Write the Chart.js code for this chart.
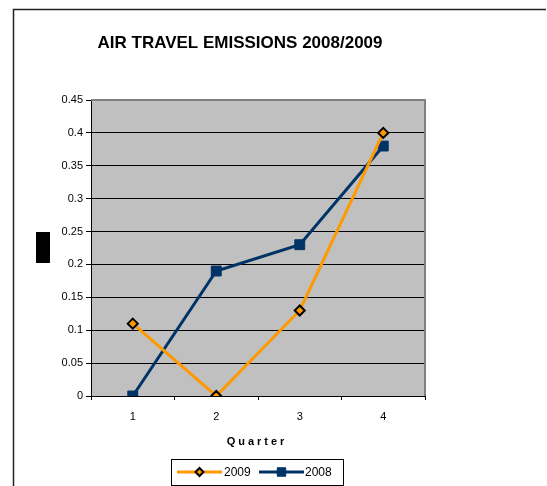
<!DOCTYPE html>
<html lang="en">
<head>
  <meta charset="UTF-8">
  <title>Air Travel Emissions</title>
  <script src="https://cdn.jsdelivr.net/npm/chart.js"></script>
  <style>
    body { margin: 0; background: #fff; }
    canvas { display: block; }
  </style>
</head>
<body>
  <canvas id="emChart" width="547" height="486"></canvas>

  <script>
    // values
    const quarters = ['1', '2', '3', '4'];
    const values2009 = [0.11, 0, 0.13, 0.40];
    const values2008 = [0, 0.19, 0.23, 0.38];
    const yTickLabels = ['0', '0.05', '0.1', '0.15', '0.2', '0.25', '0.3', '0.35', '0.4', '0.45'];

    const chartTitle = 'AIR TRAVEL EMISSIONS 2008/2009';
    const xTitle = 'Quarter';

    // frame, plot background, title, axis title and legend box
    const decorPlugin = {
      id: 'decor',
      beforeDraw(chart) {
        const c = chart.ctx;
        const a = chart.chartArea;
        c.save();
        c.fillStyle = '#c0c0c0';
        c.fillRect(a.left, a.top, a.right - a.left, a.bottom - a.top);
        // outer frame (only top + left visible)
        c.strokeStyle = '#222';
        c.lineWidth = 1.5;
        c.beginPath();
        c.moveTo(13.5, 486);
        c.lineTo(13.5, 9.5);
        c.lineTo(546, 9.5);
        c.stroke();
        c.restore();
      },
      afterDraw(chart) {
        const c = chart.ctx;
        const a = chart.chartArea;
        c.save();
        // gray plot border top/right
        c.strokeStyle = '#808080';
        c.lineWidth = 2;
        c.beginPath();
        c.moveTo(a.left, a.top);
        c.lineTo(a.right, a.top);
        c.lineTo(a.right, a.bottom);
        c.stroke();

        c.fillStyle = '#000';
        c.textAlign = 'center';
        c.textBaseline = 'alphabetic';
        c.font = 'bold 17px "Liberation Sans", Arial, sans-serif';
        c.fillText(chartTitle, 240, 48);

        c.font = 'bold 11px "Liberation Sans", Arial, sans-serif';
        c.letterSpacing = '3px';
        c.fillText(xTitle, 257, 445);
        c.letterSpacing = '0px';

        // redacted y axis title block
        c.fillRect(36, 232, 14, 31);

        // legend
        c.strokeStyle = '#000';
        c.lineWidth = 1;
        c.strokeRect(171.5, 459.5, 172, 26);
        c.font = '12px "Liberation Sans", Arial, sans-serif';
        c.textAlign = 'left';
        c.textBaseline = 'middle';
        const slots = [{ x0: 177, x1: 222, tx: 224 }, { x0: 259, x1: 304, tx: 305 }];
        chart.data.datasets.forEach((ds, i) => {
          const s = slots[i];
          const y = 472;
          c.strokeStyle = ds.borderColor;
          c.lineWidth = ds.borderWidth;
          c.beginPath();
          c.moveTo(s.x0, y);
          c.lineTo(s.x1, y);
          c.stroke();
          c.fillStyle = ds.pointBackgroundColor;
          c.strokeStyle = ds.pointBorderColor;
          c.lineWidth = ds.pointBorderWidth;
          Chart.helpers.drawPoint(c, { pointStyle: ds.pointStyle, radius: ds.pointRadius - 1, rotation: 0, borderWidth: ds.pointBorderWidth }, (s.x0 + s.x1) / 2, y);
          c.fillStyle = '#000';
          c.fillText(ds.label, s.tx, y + 1);
        });
        c.restore();
      }
    };

    const ctx = document.getElementById('emChart').getContext('2d');
    const emChart = new Chart(ctx, {
      type: 'line',
      data: {
        labels: quarters,
        datasets: [{
          label: '2009',
          data: values2009,
          borderColor: '#ff9900',
          borderWidth: 3,
          pointStyle: 'rectRot',
          pointRadius: 5,
          pointBackgroundColor: '#ff9900',
          pointBorderColor: '#000',
          pointBorderWidth: 2,
          tension: 0,
          fill: false
        }, {
          label: '2008',
          data: values2008,
          borderColor: '#003366',
          borderWidth: 3,
          pointStyle: 'rect',
          pointRadius: 7,
          pointBackgroundColor: '#003366',
          pointBorderColor: '#003366',
          pointBorderWidth: 1,
          tension: 0,
          fill: false
        }]
      },
      options: {
        responsive: false,
        animation: false,
        devicePixelRatio: 1,
        layout: { padding: { left: 0, top: 100, right: 122, bottom: 0 } },
        plugins: {
          legend: { display: false },
          title: { display: false },
          tooltip: { enabled: false }
        },
        scales: {
          x: {
            offset: true,
            grid: { offset: true, drawOnChartArea: false, color: '#000', tickLength: 4 },
            border: { color: '#000', width: 1 },
            ticks: { color: '#000', font: { family: '"Liberation Sans", Arial, sans-serif', size: 11 }, padding: 10, maxRotation: 0 },
            afterFit(scale) { scale.height = 90; }
          },
          y: {
            min: 0,
            max: 0.45,
            ticks: {
              stepSize: 0.05,
              color: '#000',
              padding: 3,
              font: { family: '"Liberation Sans", Arial, sans-serif', size: 11 },
              callback: (v, i) => yTickLabels[i]
            },
            grid: { color: '#000', tickLength: 5 },
            border: { color: '#000', width: 1 },
            afterFit(scale) { scale.width = 91; }
          }
        }
      },
      plugins: [decorPlugin]
    });
  </script>
</body>
</html>
